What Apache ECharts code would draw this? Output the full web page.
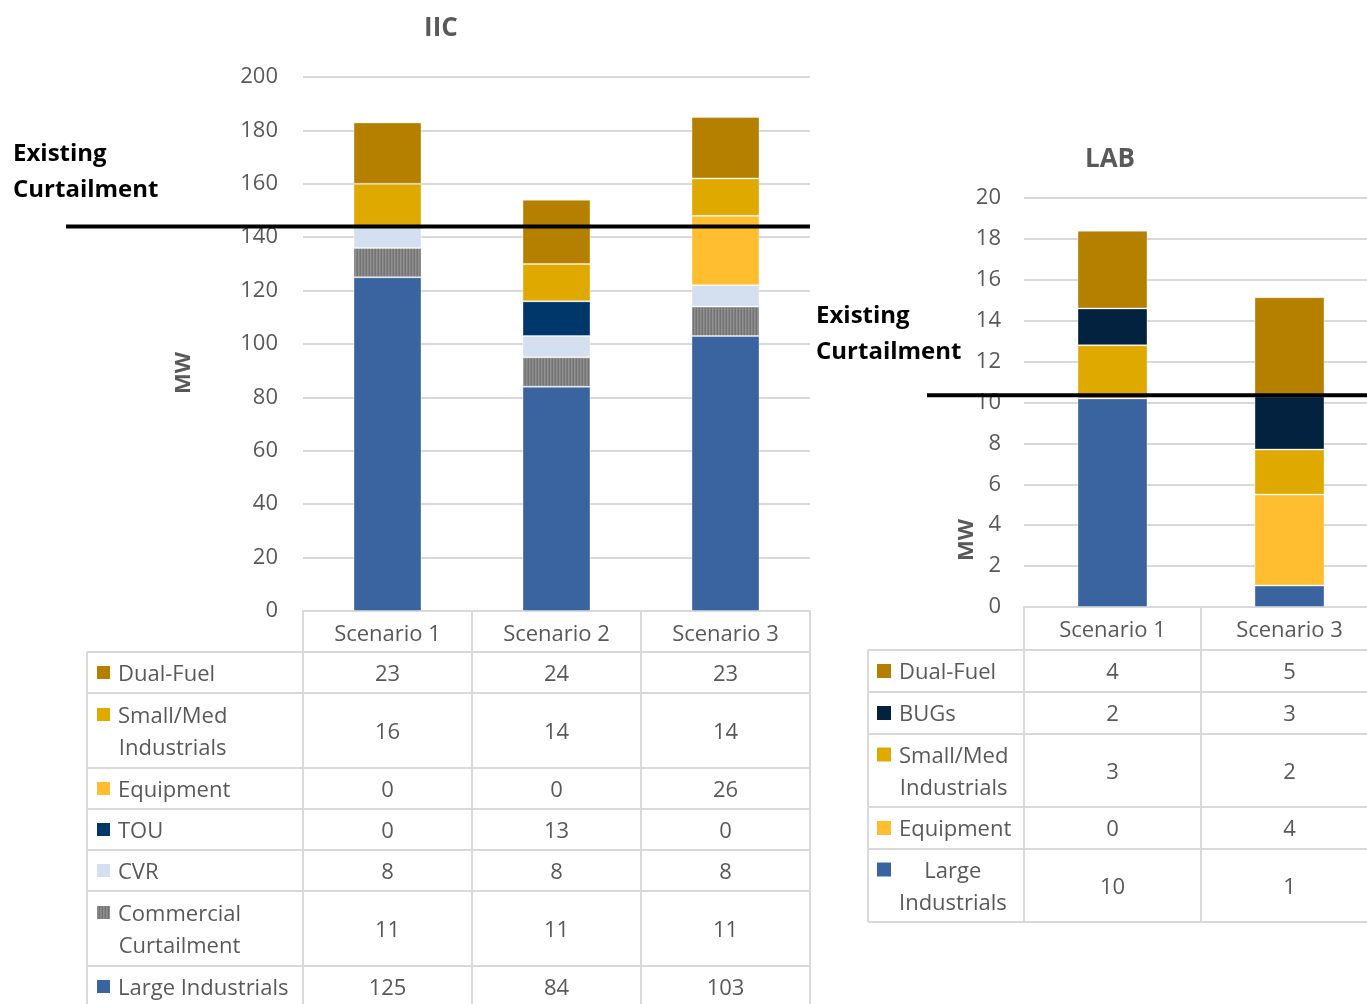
<!DOCTYPE html>
<html>
<head>
<meta charset="utf-8">
<script src="https://cdn.jsdelivr.net/npm/echarts@6/dist/echarts.min.js"></script>
<style>
html,body{margin:0;padding:0;background:#fff;overflow:hidden;}
#c{width:1380px;height:1004px;}
</style>
</head>
<body>
<div id="c"></div>
<script>
// ---------- DATA ----------
const iicCategories = ['Scenario 1', 'Scenario 2', 'Scenario 3'];
const iicLargeIndustrials = [125, 84, 103];
const iicCommercialCurtailment = [11, 11, 11];
const iicCVR = [8, 8, 8];
const iicTOU = [0, 13, 0];
const iicEquipment = [0, 0, 26];
const iicSmallMed = [16, 14, 14];
const iicDualFuel = [23, 24, 23];
const iicExistingCurtailment = 144;

const labCategories = ['Scenario 1', 'Scenario 3'];
const labLargeIndustrials = [10.2, 1.05];
const labEquipment = [0, 4.45];
const labSmallMed = [2.6, 2.2];
const labBUGs = [1.8, 2.6];
const labDualFuel = [3.8, 4.85];
const labExistingCurtailment = 10.35;

const iicAxisTicks = [0, 200, 20];  // min, max, interval
const labAxisTicks = [0, 20, 2];

// ---------- STYLE ----------
const FONT = '"Open Sans", Lato, sans-serif';
const GRAY = '#595959';
const LINE = '#d9d9d9';
const C = {
  dual: '#b57f00',
  smallMed: '#dfa900',
  equip: '#ffbe2f',
  tou: '#00376a',
  bugs: '#03223f',
  cvr: '#d4e0f0',
  li: '#3a649f'
};
// striped pattern for Commercial Curtailment
const pc = document.createElement('canvas');
pc.width = 3; pc.height = 3;
const pctx = pc.getContext('2d');
['#747474', '#8f8f8f', '#828282'].forEach((col, i) => { pctx.fillStyle = col; pctx.fillRect(i, 0, 1, 3); });
const commPattern = { image: pc, repeat: 'repeat' };

const chart = echarts.init(document.getElementById('c'), null, { renderer: 'canvas' });

const border = { borderColor: 'rgba(255,255,255,0.35)', borderWidth: 1 };
function bar(name, data, color, idx, width) {
  return {
    name: name, type: 'bar', stack: 's' + idx, xAxisIndex: idx, yAxisIndex: idx,
    data: data, barWidth: width,
    itemStyle: Object.assign({ color: color }, border)
  };
}

const iicSeries = [
  ['Large Industrials', iicLargeIndustrials, C.li],
  ['Commercial\nCurtailment', iicCommercialCurtailment, commPattern],
  ['CVR', iicCVR, C.cvr],
  ['TOU', iicTOU, C.tou],
  ['Equipment', iicEquipment, C.equip],
  ['Small/Med\nIndustrials', iicSmallMed, C.smallMed],
  ['Dual-Fuel', iicDualFuel, C.dual]
];
const labSeries = [
  ['Large\nIndustrials', labLargeIndustrials, C.li],
  ['Equipment', labEquipment, C.equip],
  ['Small/Med\nIndustrials', labSmallMed, C.smallMed],
  ['BUGs', labBUGs, C.bugs],
  ['Dual-Fuel', labDualFuel, C.dual]
];

function xAxisCfg(idx, data) {
  return {
    type: 'category', gridIndex: idx, data: data,
    axisLine: { show: true, lineStyle: { color: LINE, width: 2 } },
    axisTick: { show: false },
    axisLabel: { margin: 13, fontSize: 22, color: GRAY, fontFamily: FONT }
  };
}
function yAxisCfg(idx, t, margin) {
  return {
    type: 'value', gridIndex: idx, min: t[0], max: t[1], interval: t[2],
    axisLine: { show: false }, axisTick: { show: false },
    axisLabel: { margin: margin, fontSize: 22, color: GRAY, fontFamily: FONT, padding: [4, 0, 0, 0] },
    splitLine: { lineStyle: { color: LINE, width: 2 } }
  };
}

const grids = [
  { left: 303, top: 77, width: 507, height: 534 },
  { left: 1024, top: 198, width: 354, height: 409 }
];

chart.setOption({
  animation: false,
  grid: grids,
  xAxis: [xAxisCfg(0, iicCategories), xAxisCfg(1, labCategories)],
  yAxis: [yAxisCfg(0, iicAxisTicks, 25), yAxisCfg(1, labAxisTicks, 23)],
  series: iicSeries.map(s => bar(s[0], s[1], s[2], 0, 68))
    .concat(labSeries.map(s => bar(s[0], s[1], s[2], 1, 70)))
});

// ---------- ANNOTATIONS & TABLES ----------
const mctx = document.createElement('canvas').getContext('2d');
function measure(text, size) { mctx.font = size + 'px ' + FONT; return mctx.measureText(text).width; }

const TY = 2; // vertical text nudge
const g = [];
function hline(x1, x2, y, color, w, z) { g.push({ type: 'line', z: z || 50, shape: { x1: x1, y1: y, x2: x2, y2: y }, style: { stroke: color, lineWidth: w } }); }
function vline(x, y1, y2, color, w) { g.push({ type: 'line', z: 50, shape: { x1: x, y1: y1, x2: x, y2: y2 }, style: { stroke: color, lineWidth: w } }); }
function txt(text, x, y, opts) {
  g.push({ type: 'text', z: 60, x: x, y: y + (opts.rotation ? 0 : TY), rotation: opts.rotation || 0,
    style: { text: text, fill: opts.color || GRAY, font: (opts.weight || 'normal') + ' ' + (opts.size || 22) + 'px ' + FONT,
      textAlign: opts.align || 'left', textVerticalAlign: 'middle' } });
}

// Titles
txt('IIC', 441, 27, { align: 'center', weight: 'bold', size: 26 });
txt('LAB', 1110, 158, { align: 'center', weight: 'bold', size: 26 });
// MW axis names
txt('MW', 184, 373, { align: 'center', weight: 'bold', size: 22, rotation: Math.PI / 2 });
txt('MW', 967, 540, { align: 'center', weight: 'bold', size: 22, rotation: Math.PI / 2 });

// Existing curtailment lines
const yIIC = chart.convertToPixel({ yAxisIndex: 0 }, iicExistingCurtailment);
const yLAB = chart.convertToPixel({ yAxisIndex: 1 }, labExistingCurtailment);
hline(66, 810, yIIC, '#000', 4, 100);
hline(927, 1380, yLAB, '#000', 4, 100);
txt('Existing', 13, 152, { color: '#000', weight: 'bold', size: 24 });
txt('Curtailment', 13, 188, { color: '#000', weight: 'bold', size: 24 });
txt('Existing', 816, 314, { color: '#000', weight: 'bold', size: 24 });
txt('Curtailment', 816, 350, { color: '#000', weight: 'bold', size: 24 });

function table(cfg) {
  const grid = cfg.grid, n = cfg.cats.length;
  const colW = grid.width / n;
  const top = grid.top + grid.height;
  const rightEdge = grid.left + grid.width;
  let y = top + cfg.headerH;
  hline(cfg.labelLeft, rightEdge, y, LINE, 2);
  const rows = cfg.series.slice().reverse();
  rows.forEach(s => {
    const multi = s[0].indexOf('\n') >= 0;
    const h = multi ? cfg.doubleH : cfg.singleH;
    const cy = y + h / 2;
    const lines = s[0].split('\n');
    const firstY = cy - (lines.length - 1) * cfg.lineH / 2;
    // legend square
    g.push({ type: 'rect', z: 60, shape: { x: cfg.squareX, y: firstY - cfg.sq / 2, width: cfg.sq, height: cfg.sq }, style: { fill: s[2] } });
    if (multi) {
      const maxW = Math.max.apply(null, lines.map(l => measure(l, 22)));
      lines.forEach((l, i) => txt(l, cfg.textX + maxW / 2, firstY + i * cfg.lineH, { align: 'center' }));
    } else {
      txt(s[0], cfg.textX, cy, {});
    }
    s[1].forEach((v, i) => txt(String(Math.round(v)), grid.left + colW * (i + 0.5), cy, { align: 'center' }));
    y += h;
    hline(cfg.labelLeft, rightEdge, y, LINE, 2);
  });
  const bottom = cfg.bottom || y;
  vline(cfg.labelLeft, top + cfg.headerH, bottom, LINE, 2);
  for (let k = 0; k <= n; k++) vline(grid.left + colW * k, top, bottom, LINE, 2);
}

table({ grid: grids[0], cats: iicCategories, series: iicSeries, labelLeft: 87, headerH: 41,
  singleH: 41, doubleH: 75, lineH: 32, squareX: 97, sq: 13, textX: 118, bottom: 1010 });
table({ grid: grids[1], cats: labCategories, series: labSeries, labelLeft: 868, headerH: 43,
  singleH: 42, doubleH: 73, lineH: 32, squareX: 877, sq: 14, textX: 899 });

chart.setOption({ graphic: { elements: g } });
</script>
</body>
</html>
